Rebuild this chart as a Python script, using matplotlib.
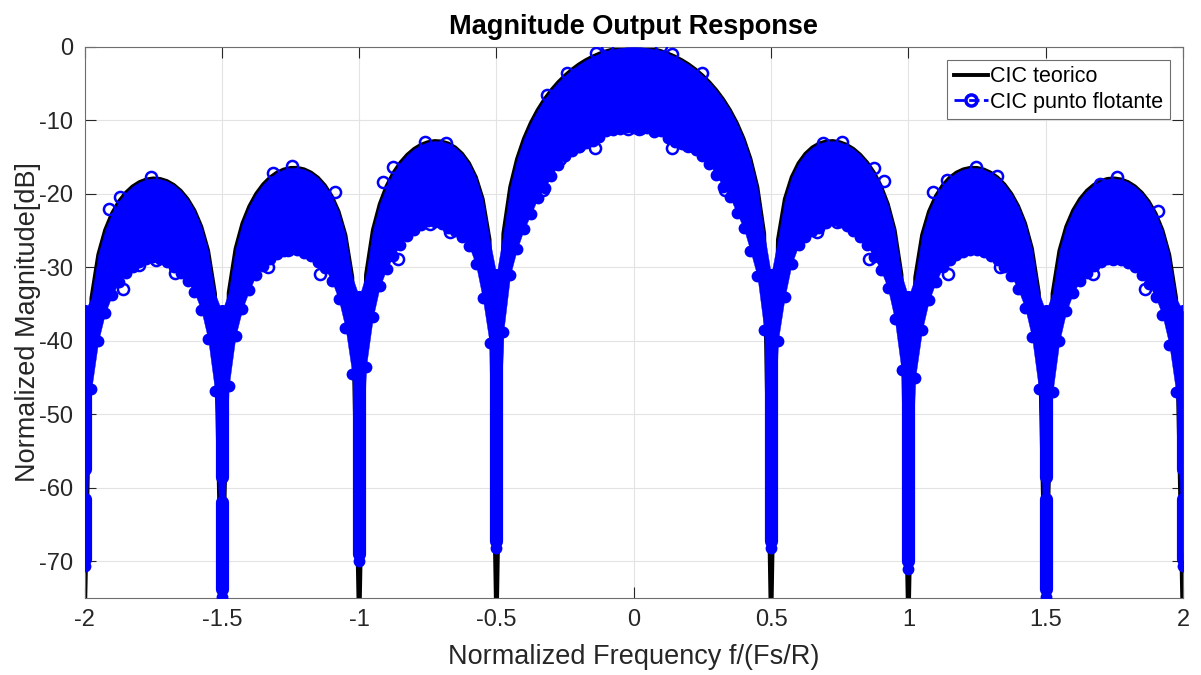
import numpy as np
import matplotlib.pyplot as plt
from matplotlib.lines import Line2D

# eje de frecuencia normalizada (paso 0.025)
freq = np.linspace(-2, 2, 161)

# respuesta teorica del CIC [dB] (-80 = nulo, fuera de escala)
teorico_db = [
    -80, -34.17, -28.26, -24.91, -22.65, -21.03, -19.84, -18.98, -18.39, -18.03,
    -17.89, -17.96, -18.25, -18.78, -19.57, -20.69, -22.24, -24.43, -27.71, -33.56,
    -80, -33.42, -27.43, -24.00, -21.68, -19.98, -18.72, -17.78, -17.11, -16.68,
    -16.46, -16.45, -16.66, -17.10, -17.80, -18.84, -20.30, -22.39, -25.58, -31.33,
    -80, -30.99, -24.90, -21.37, -18.93, -17.12, -15.74, -14.68, -13.88, -13.31,
    -12.96, -12.80, -12.86, -13.14, -13.68, -14.54, -15.82, -17.72, -20.70, -26.23,
    -80, -25.41, -19.05, -15.23, -12.48, -10.33, -8.58, -7.11, -5.86, -4.79,
    -3.87, -3.07, -2.38, -1.80, -1.31, -0.90, -0.57, -0.32, -0.14, -0.04,
    0.00,
    -0.04, -0.14, -0.32, -0.57, -0.90, -1.31, -1.80, -2.38, -3.07, -3.87,
    -4.79, -5.86, -7.11, -8.58, -10.33, -12.48, -15.23, -19.05, -25.41, -80,
    -26.23, -20.70, -17.72, -15.82, -14.54, -13.68, -13.14, -12.86, -12.80, -12.96,
    -13.31, -13.88, -14.68, -15.74, -17.12, -18.93, -21.37, -24.90, -30.99, -80,
    -31.33, -25.58, -22.39, -20.30, -18.84, -17.80, -17.10, -16.66, -16.45, -16.46,
    -16.68, -17.11, -17.78, -18.72, -19.98, -21.68, -24.00, -27.43, -33.42, -80,
    -33.56, -27.71, -24.43, -22.24, -20.69, -19.57, -18.78, -18.25, -17.96, -17.89,
    -18.03, -18.39, -18.98, -19.84, -21.03, -22.65, -24.91, -28.26, -34.17, -80,
]

# borde inferior de la nube de puntos flotantes [dB]
flotante_inf = [
    -70.7, -46.5, -40.0, -36.2, -33.8, -32.0, -30.8, -29.9, -29.3, -28.9,
    -28.6, -28.8, -29.2, -29.9, -30.7, -31.9, -33.4, -35.8, -39.8, -46.8,
    -74.8, -46.2, -39.3, -35.6, -33.1, -31.0, -29.8, -28.8, -28.2, -27.8,
    -27.5, -27.7, -28.0, -28.5, -29.2, -30.1, -31.8, -34.3, -38.2, -44.5,
    -70.0, -43.5, -36.8, -32.6, -30.2, -28.4, -26.9, -25.7, -24.9, -24.2,
    -23.7, -23.8, -24.1, -24.7, -25.1, -25.9, -27.1, -29.6, -34.2, -40.3,
    -68.2, -38.8, -31.0, -27.5, -24.8, -22.8, -20.6, -19.2, -17.6, -16.0,
    -14.9, -14.1, -13.6, -13.1, -12.8, -12.2, -11.4, -11.3, -11.1, -10.9,
    -11.0,
    -11.1, -11.0, -11.6, -11.5, -12.4, -13.0, -13.2, -13.5, -14.0, -14.8,
    -15.9, -17.4, -19.0, -20.4, -22.6, -24.6, -27.8, -31.2, -38.5, -68.2,
    -40.0, -34.0, -29.5, -27.0, -25.8, -25.0, -24.6, -24.0, -23.6, -23.8,
    -24.4, -25.0, -25.9, -27.0, -28.6, -30.4, -32.8, -37.0, -44.0, -71.0,
    -45.0, -38.5, -34.5, -32.0, -30.0, -29.0, -28.3, -27.9, -27.6, -27.6,
    -27.9, -28.5, -29.0, -30.0, -31.2, -33.0, -35.5, -39.5, -46.5, -74.8,
    -47.0, -40.0, -36.0, -33.5, -31.8, -30.8, -29.8, -29.2, -28.8, -28.7,
    -29.0, -29.4, -30.0, -31.0, -32.3, -34.0, -36.5, -40.5, -47.0, -70.7,
]

# nulos: fondo de la "V" superior de la nube
nulos_x = [-2, -1.5, -1, -0.5, 0.5, 1, 1.5, 2]
nulos_techo = [-36, -36, -34, -31, -31, -34, -36, -36]

# tramos verticales de puntos en los nulos (x, y_arriba, y_abajo)
tramos = [
    (-2, -36, -57.5), (-2, -61.5, -69.7),
    (-1.5, -36, -58.5), (-1.5, -62.0, -73.8),
    (-1, -34, -69.0),
    (-0.5, -31, -67.2),
    (0.5, -31, -67.2),
    (1, -34, -70.0),
    (1.5, -36, -58.5), (1.5, -61.5, -73.8),
    (2, -36, -57.5), (2, -61.5, -69.7),
]

# circulos sueltos por encima y por debajo de la nube
picos_x = [-1.758, -1.871, -1.91, -1.245, -1.312, -1.088, -0.76, -0.684, -0.875, -0.912,
           -0.317, -0.244, -0.137, -0.098, 0.098, 0.138, 0.248, 0.757, 0.690, 0.873,
           0.912, 1.091, 1.14, 1.247, 1.322, 1.698, 1.759, 1.91]
picos_y = [-17.7, -20.4, -22.1, -16.2, -17.2, -19.7, -12.9, -13.1, -16.3, -18.4,
           -6.5, -3.5, -0.8, 0.1, 0.2, -0.9, -3.5, -12.9, -13.1, -16.5,
           -18.2, -19.7, -18.1, -16.4, -17.5, -18.6, -17.7, -22.3]
burbujas_x = [-1.861, -1.80, -1.74, -1.67, -1.331, -1.258, -1.142, -0.857, -0.742, -0.669,
              -0.329, -0.268, -0.2, -0.141, -0.022, 0.02, 0.138, 0.199, 0.333, 0.668,
              0.741, 0.858, 1.146, 1.334, 1.671, 1.746, 1.862]
burbujas_y = [-32.9, -29.7, -29.0, -30.7, -30.0, -27.7, -30.9, -28.8, -24.1, -25.2,
              -19.5, -15.3, -13.5, -13.8, -11.1, -11.1, -13.8, -13.5, -19.4, -25.2,
              -23.8, -28.8, -30.9, -30.0, -30.9, -28.8, -32.9]

xticks = [-2, -1.5, -1, -0.5, 0, 0.5, 1, 1.5, 2]
xtick_labels = ['-2', '-1.5', '-1', '-0.5', '0', '0.5', '1', '1.5', '2']
yticks = [-70, -60, -50, -40, -30, -20, -10, 0]
ytick_labels = ['-70', '-60', '-50', '-40', '-30', '-20', '-10', '0']

plt.rcParams['font.family'] = ['Liberation Sans', 'DejaVu Sans']

flot_sup = np.array(teorico_db, dtype=float)
for xn, t in zip(nulos_x, nulos_techo):
    flot_sup[np.isclose(freq, xn)] = t

fig = plt.figure(figsize=(12.01, 6.75), dpi=100)
ax = fig.add_axes([0.0704, 0.1141, 0.9146, 0.8163])

l1, = ax.plot(freq, teorico_db, color='black', lw=2.8, zorder=2)
ax.fill_between(freq, flotante_inf, flot_sup, facecolor='blue', edgecolor='blue',
                lw=0.3, zorder=3)
for xc, y0, y1 in tramos:
    ax.plot([xc, xc], [y0, y1], color='blue', lw=9.5, solid_capstyle='round', zorder=3)
ax.plot(freq, flotante_inf, 'o', color='blue', ms=7, mfc='blue', mew=1.5, zorder=3)
ax.plot(picos_x, picos_y, 'o', color='blue', ms=8, mfc='none', mew=1.8, zorder=3)
ax.plot(burbujas_x, burbujas_y, 'o', color='blue', ms=8, mfc='none', mew=1.8, zorder=3)

ax.set_xlim(-2, 2)
ax.set_ylim(-75, 0)
ax.set_xticks(xticks)
ax.set_xticklabels(xtick_labels)
ax.set_yticks(yticks)
ax.set_yticklabels(ytick_labels)
ax.grid(True, color='#e3e3e3', lw=0.8)
ax.set_axisbelow(True)
ax.tick_params(direction='in', top=True, right=True, length=8, width=0.8,
               colors='#262626', labelsize=17, pad=8)
for s in ax.spines.values():
    s.set_color('#6e6e6e')
    s.set_linewidth(0.8)

ax.set_title('Magnitude Output Response', fontsize=19.5, fontweight='bold', pad=9)
ax.set_xlabel('Normalized Frequency f/(Fs/R)', fontsize=19.5, color='#262626', labelpad=9)
ax.set_ylabel('Normalized Magnitude[dB]', fontsize=19.5, color='#262626', labelpad=-1.5)

l2 = Line2D([], [], color='blue', ls='--', lw=2, marker='o', ms=8, mfc='none', mew=2.5)
leg = ax.legend([l1, l2], ['CIC teorico', 'CIC punto flotante'], loc='upper right',
                fontsize=15.5, numpoints=1, handlelength=1.6, handletextpad=0.1,
                borderpad=0.3, labelspacing=0.2, fancybox=False, framealpha=1,
                borderaxespad=0.6)
leg.get_frame().set_edgecolor('#6e6e6e')
leg.get_frame().set_linewidth(0.8)

fig.savefig('out.png', dpi=100)
